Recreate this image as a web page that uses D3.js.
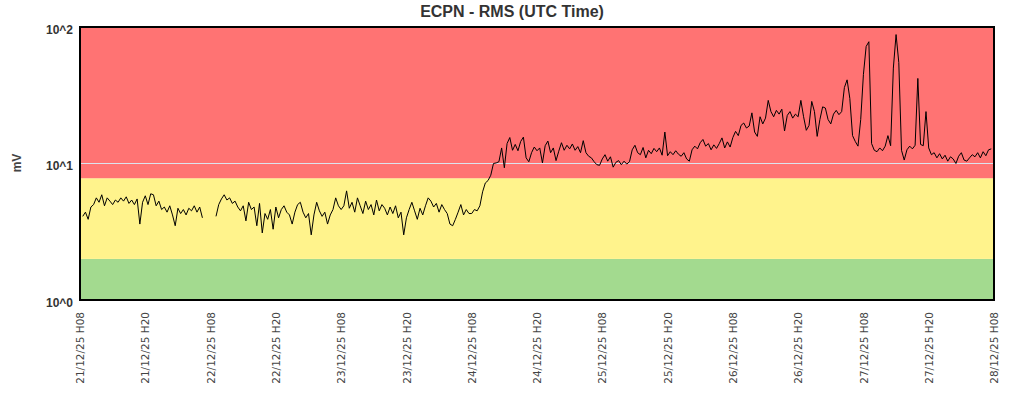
<!DOCTYPE html>
<html>
<head>
<meta charset="utf-8">
<script src="https://cdn.jsdelivr.net/npm/d3@7"></script>
<style>
  body { margin: 0; background: #fff; }
  svg { display: block; }
</style>
</head>
<body>
<svg id="chart" width="1024" height="400"></svg>
<script>
// DATA - one sample every 30 minutes, a day per array (null = no data)
const startTime = new Date(2025, 11, 21, 8, 0);
const stepMinutes = 30;

const rms21 = [null, 4.1, 4.4, 3.9, 4.8, 5.0, 5.6, 5.2, 5.9, 4.9, 5.6, 5.3, 5.0, 5.4, 5.2, 5.6,
  5.3, 5.7, 5.1, 5.4, 5.0, 5.5, 3.6, 5.2, 5.8, 5.0, 6.0, 5.9, 4.9, 5.3, 4.6, 4.8,
  4.4, 4.9, 4.2, 3.5, 4.7, 4.3, 4.6, 4.2, 4.7, 4.5, 4.9, 4.4, 4.8, 4.0, null, null];
const rms22 = [null, null, 4.1, 5.0, 5.5, 5.9, 5.4, 5.6, 5.1, 5.3, 4.8, 4.5, 4.9, 3.8, 5.2, 4.6,
  4.8, 3.5, 5.1, 3.1, 4.3, 3.9, 4.6, 3.3, 4.8, 4.0, 4.6, 4.9, 4.4, 4.2, 3.6, 4.4,
  5.0, 5.2, 4.4, 4.0, 4.3, 3.0, 4.2, 5.2, 4.5, 4.1, 4.4, 3.6, 4.2, 4.6, 5.6, 4.9];
const rms23 = [4.6, 4.9, 6.3, 4.7, 5.2, 4.4, 5.6, 4.9, 4.3, 5.3, 4.6, 5.0, 4.2, 5.4, 4.5, 5.0,
  4.7, 4.2, 4.8, 4.3, 4.9, 4.0, 4.4, 3.0, 4.0, 4.6, 5.2, 4.5, 3.9, 4.7, 4.2, 4.9,
  5.6, 5.3, 4.8, 5.1, 4.4, 5.0, 4.6, 4.3, 3.6, 3.5, 3.9, 4.4, 5.0, 4.2, 4.6, 4.3];
const rms24 = [4.3, 4.6, 4.5, 4.9, 6.2, 7.2, 7.5, 8.2, 10.0, 10.1, 10.3, 13.0, 9.3, 14.0, 15.5, 12.5,
  13.8, 12.4, 14.5, 15.6, 11.0, 10.3, 12.0, 13.2, 12.4, 13.0, 10.1, 13.5, 14.6, 12.0, 13.0, 10.5,
  12.3, 14.2, 12.5, 13.6, 12.8, 13.9, 12.5, 13.3, 12.0, 14.7, 12.0, 11.3, 11.0, 10.3, 9.8, 9.7];
const rms25 = [10.8, 11.6, 10.4, 11.2, 9.4, 10.2, 10.5, 9.8, 10.4, 9.9, 10.3, 12.6, 13.6, 12.0, 11.6, 13.1,
  11.0, 12.5, 11.8, 12.9, 12.2, 13.0, 11.5, 17.0, 11.4, 12.2, 11.6, 12.4, 11.7, 11.3, 12.0, 10.8,
  10.4, 12.6, 13.4, 12.8, 14.2, 15.0, 13.4, 14.0, 12.6, 13.7, 12.9, 14.0, 15.4, 13.0, 14.4, 13.2];
const rms26 = [15.5, 17.2, 16.0, 19.0, 19.8, 18.2, 18.8, 23.5, 17.0, 15.8, 22.0, 19.5, 21.5, 29.0, 24.0, 22.0,
  24.5, 23.0, 25.0, 17.3, 22.5, 24.0, 21.5, 23.0, 22.0, 29.0, 22.0, 17.5, 19.0, 28.5, 24.0, 15.8,
  21.0, 26.0, 25.5, 21.0, 19.5, 23.0, 24.5, 22.8, 24.0, 36.0, 41.0, 30.0, 16.0, 14.5, 13.4, 21.0];
const rms27 = [45.0, 72.0, 78.0, 14.0, 12.5, 12.2, 13.0, 12.4, 13.4, 16.0, 13.5, 50.0, 88.0, 55.0, 12.5, 10.6,
  12.6, 13.4, 12.8, 13.6, 42.0, 13.8, 13.5, 24.0, 13.0, 11.6, 12.0, 11.0, 11.8, 10.8, 11.5, 10.4,
  11.2, 10.8, 10.0, 11.3, 12.0, 10.6, 10.4, 11.0, 11.6, 11.2, 12.0, 11.0, 12.2, 11.4, 12.6, 12.8];

// alert bands (mV) and their colours
const bandEdges = [1, 2, 7.8, 100];
const bandColors = ["#a3da8f", "#fff38c", "#ff7373"];

const yTicks = [1, 10, 100];
const yTickLabels = ["10^0", "10^1", "10^2"];
const xTickCount = 15;
const xTickHours = 12;

// CANVAS SETUP
const svg = d3.select("#chart");
const margin = { top: 27, right: 30, bottom: 100, left: 80 };
const width = +svg.attr("width") - margin.left - margin.right,
  height = +svg.attr("height") - margin.top - margin.bottom;

const series = [rms21, rms22, rms23, rms24, rms25, rms26, rms27]
  .flat()
  .map((v, i) => ({ t: d3.timeMinute.offset(startTime, i * stepMinutes), v: v }));

const xTicks = d3.range(xTickCount).map((i) => d3.timeHour.offset(startTime, i * xTickHours));

const x = d3
  .scaleTime()
  .domain([xTicks[0], xTicks[xTicks.length - 1]])
  .range([0, width]);

const y = d3.scaleLog().domain([1, 100]).range([height, 0]);

svg.append("defs")
  .append("clipPath")
  .attr("id", "plotClip")
  .append("rect")
  .attr("width", width)
  .attr("height", height);

const g = svg.append("g").attr("transform", `translate(${margin.left},${margin.top})`);

// bands
g.selectAll("rect.band")
  .data(bandColors)
  .join("rect")
  .attr("class", "band")
  .attr("x", 0)
  .attr("width", width)
  .attr("y", (d, i) => y(bandEdges[i + 1]))
  .attr("height", (d, i) => y(bandEdges[i]) - y(bandEdges[i + 1]))
  .attr("fill", (d) => d);

// grid line at 10^1
g.selectAll("line.grid")
  .data(yTicks.slice(1, -1))
  .join("line")
  .attr("class", "grid")
  .attr("x1", 0)
  .attr("x2", width)
  .attr("y1", (d) => y(d))
  .attr("y2", (d) => y(d))
  .attr("stroke", "#dde3ee")
  .attr("stroke-width", 1);

// rms line
const line = d3
  .line()
  .defined((d) => d.v != null)
  .x((d) => x(d.t))
  .y((d) => y(d.v));

g.append("path")
  .datum(series)
  .attr("clip-path", "url(#plotClip)")
  .attr("fill", "none")
  .attr("stroke", "#000")
  .attr("stroke-width", 1)
  .attr("stroke-linejoin", "round")
  .attr("d", line);

// frame
g.append("rect")
  .attr("width", width)
  .attr("height", height)
  .attr("fill", "none")
  .attr("stroke", "#000")
  .attr("stroke-width", 1.2)
  .attr("shape-rendering", "crispEdges");

// AXES
const yAxis = g
  .append("g")
  .call(
    d3.axisLeft(y)
      .tickValues(yTicks)
      .tickFormat((d, i) => yTickLabels[i])
      .tickSize(0)
      .tickPadding(7)
  );
yAxis.select(".domain").remove();
yAxis.selectAll("text")
  .attr("dy", "0.5em")
  .style("font", "bold 12px 'Liberation Sans', Arial, sans-serif")
  .style("fill", "#333");

const xAxis = g
  .append("g")
  .attr("transform", `translate(0,${height})`)
  .call(
    d3.axisBottom(x)
      .tickValues(xTicks)
      .tickFormat(d3.timeFormat("%d/%m/%y H%H"))
      .tickSize(0)
  );
xAxis.select(".domain").remove();
xAxis.selectAll("text")
  .attr("y", 0)
  .attr("x", -12)
  .attr("dy", "0.35em")
  .attr("transform", "rotate(-90)")
  .style("text-anchor", "end")
  .style("font", "10.5px 'DejaVu Sans', sans-serif")
  .style("fill", "#444");

// TITLES
svg.append("text")
  .attr("x", 512)
  .attr("y", 17)
  .attr("text-anchor", "middle")
  .style("font", "bold 16px 'Liberation Sans', Arial, sans-serif")
  .style("fill", "#333")
  .text("ECPN - RMS (UTC Time)");

svg.append("text")
  .attr("transform", "translate(20.5,163) rotate(-90)")
  .attr("text-anchor", "middle")
  .style("font", "bold 12px 'Liberation Sans', Arial, sans-serif")
  .style("fill", "#444")
  .text("mV");
</script>
</body>
</html>
